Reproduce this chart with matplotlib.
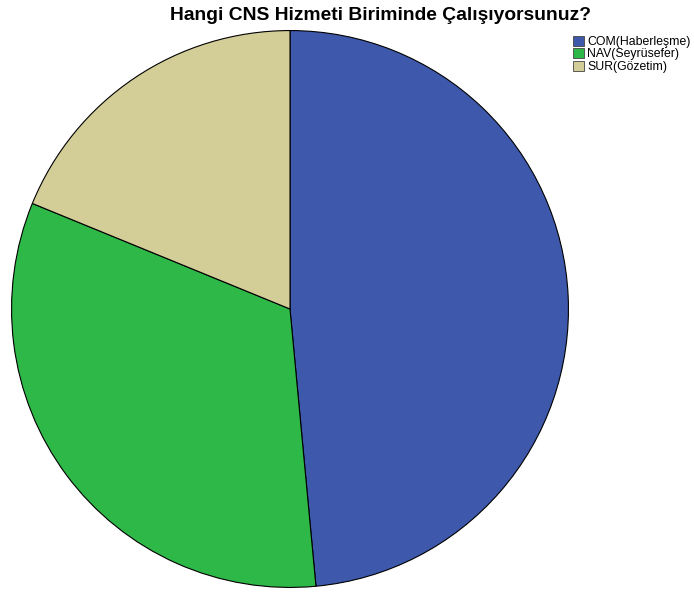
import matplotlib
matplotlib.use("Agg")
import matplotlib.pyplot as plt
from matplotlib.patches import Patch

labels = ["COM(Haberleşme)", "NAV(Seyrüsefer)", "SUR(Gözetim)"]
values = [49, 33, 19]
colors = ["#3E58AC", "#2EB848", "#D3CE97"]

plt.rcParams['font.family'] = ['Liberation Sans', 'DejaVu Sans']
fig = plt.figure(figsize=(6.94, 5.92), dpi=100)
ax = fig.add_axes([11/694, 4/592, 558/694, 558/592])
ax.pie(values, colors=colors, startangle=90, counterclock=False,
       wedgeprops=dict(edgecolor="black", linewidth=0.8))
ax.set_xlim(-1.002, 1.002)
ax.set_ylim(-1.002, 1.002)
ax.set_aspect('equal')
fig.text(381/694, 1 - 16/592, "Hangi CNS Hizmeti Biriminde Çalışıyorsunuz?",
         ha='center', va='center', fontsize=13.9, fontweight='bold')
handles = [Patch(facecolor=c, edgecolor='#444444', linewidth=0.6) for c in colors]
fig.legend(handles, labels, loc='upper left', bbox_to_anchor=(564/694, 1 - 27/592),
           frameon=False, fontsize=8.8, handlelength=0.95, handleheight=0.9,
           handletextpad=0.25, labelspacing=0.02, borderpad=0.2)
fig.savefig("out.png", dpi=100)
